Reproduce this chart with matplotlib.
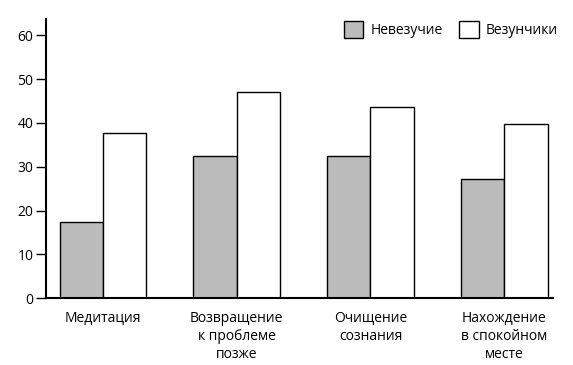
import numpy as np
import matplotlib.pyplot as plt

plt.rcParams['font.family'] = ['Open Sans', 'DejaVu Sans']

# данные
categories = ['Медитация', 'Возвращение\nк проблеме\nпозже', 'Очищение\nсознания', 'Нахождение\nв спокойном\nместе']
unlucky = [17.3, 32.5, 32.5, 27.1]
lucky = [37.8, 47.1, 43.7, 39.8]
series_names = ['Невезучие', 'Везунчики']
yticks = [0, 10, 20, 30, 40, 50, 60]

fig = plt.figure(figsize=(5.73, 3.65), dpi=100)
ax = fig.add_axes([0.0803, 0.1827, 0.885, 0.764])

x = np.arange(len(categories))
w = 0.325
ax.bar(x - w / 2, unlucky, w, color='#bbbbbb', edgecolor='black', linewidth=1.0, label=series_names[0])
ax.bar(x + w / 2, lucky, w, color='white', edgecolor='black', linewidth=1.0, label=series_names[1])

ax.set_xlim(-0.426, 3.366)
ax.set_ylim(0, 63.6)
ax.set_yticks(yticks)
ax.set_xticks(x)
ax.set_xticklabels(categories, fontsize=10, linespacing=1.3)
ax.tick_params(axis='y', labelsize=10, length=7, width=1.0, pad=2)
ax.tick_params(axis='x', length=0, pad=9)

for s in ['top', 'right']:
    ax.spines[s].set_visible(False)
for s in ['left', 'bottom']:
    ax.spines[s].set_linewidth(1.5)

ax.legend(loc='upper right', bbox_to_anchor=(1.034, 1.04), ncol=2, frameon=False, fontsize=10,
          handlelength=1.4, handleheight=1.5, handletextpad=0.5, columnspacing=1.2)

plt.savefig('out.png', dpi=100)
